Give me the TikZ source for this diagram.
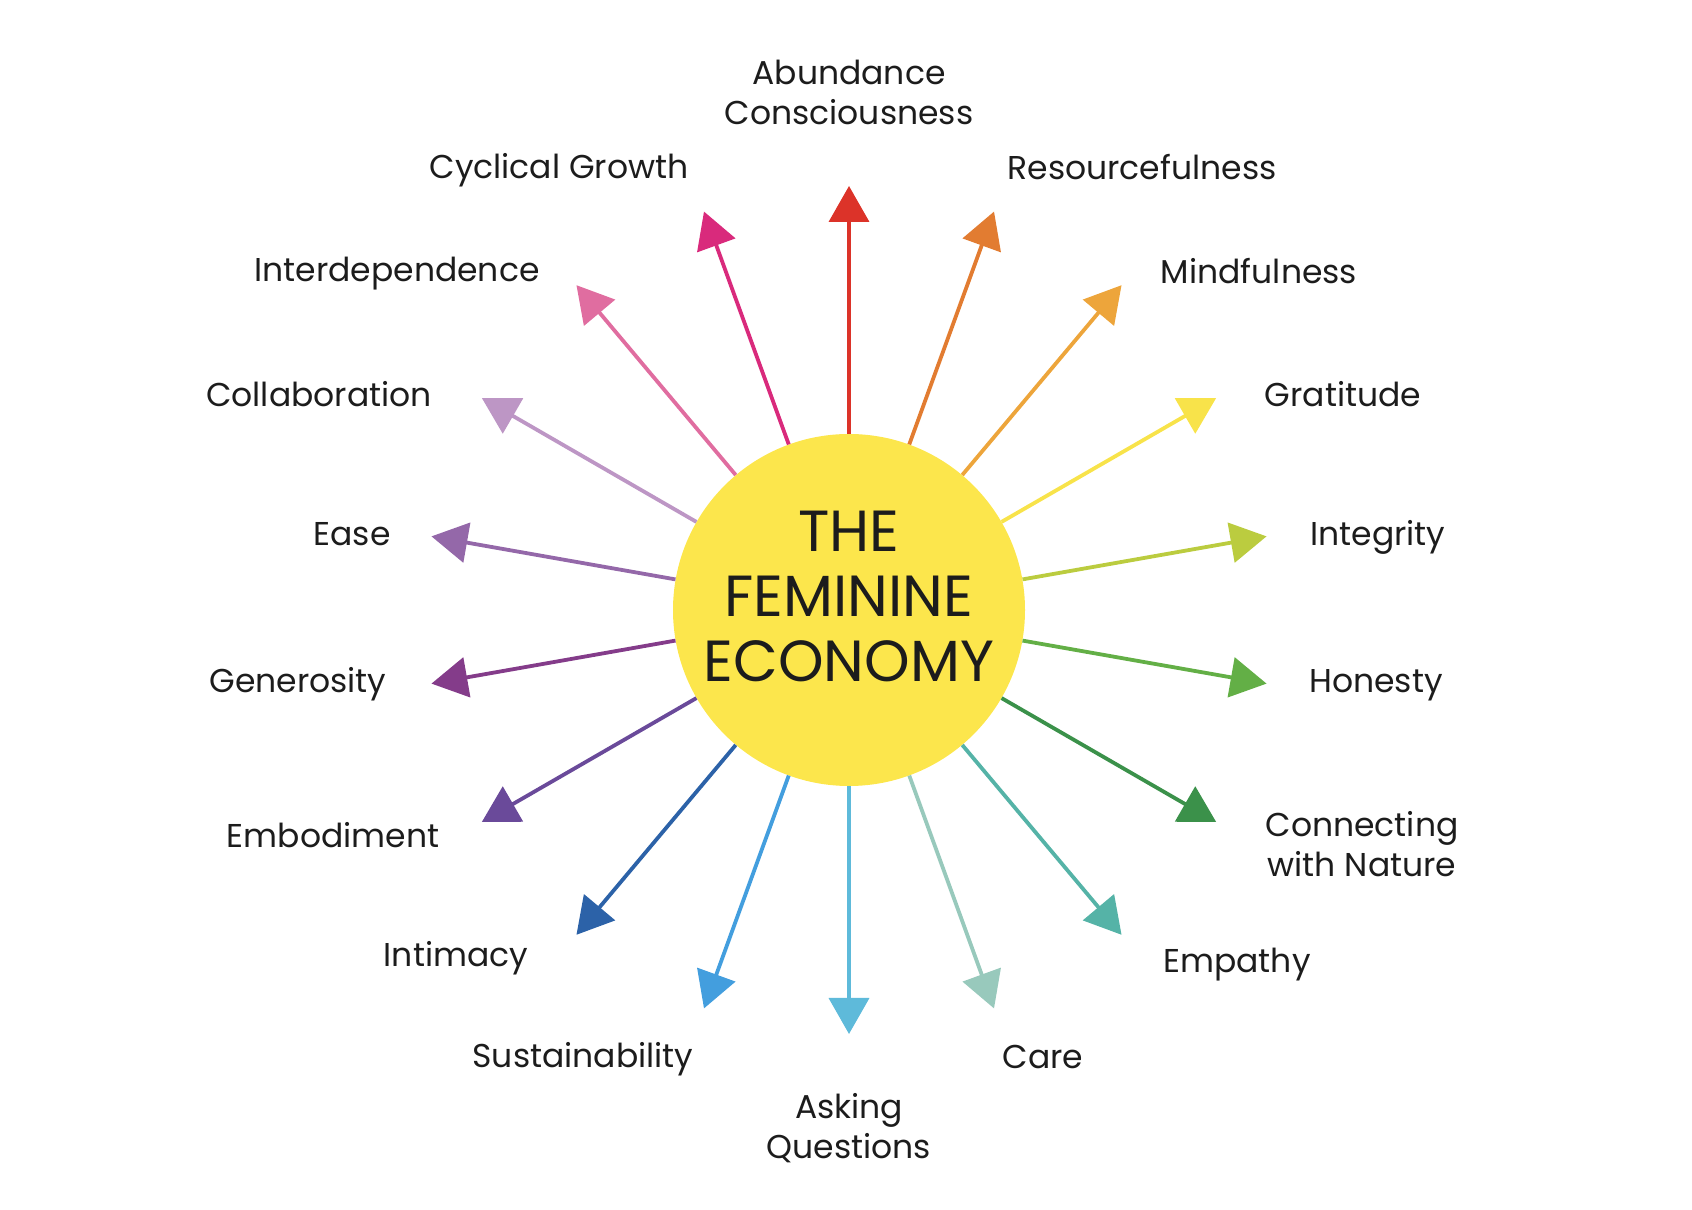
\documentclass[tikz,border=0pt]{standalone}
\usepackage{fontspec}
\setmainfont{Poppins}
\usetikzlibrary{arrows.meta,positioning,calc}

\definecolor{sunyellow}{HTML}{FCE64C}
\definecolor{ink}{HTML}{1C1C1C}
\definecolor{cAbund}{HTML}{DC3329}
\definecolor{cResource}{HTML}{E27C31}
\definecolor{cMindful}{HTML}{EDA53B}
\definecolor{cGrat}{HTML}{F8E34A}
\definecolor{cInteg}{HTML}{BBCC3F}
\definecolor{cHonest}{HTML}{63AF46}
\definecolor{cConnect}{HTML}{3B914A}
\definecolor{cEmpath}{HTML}{55B3A7}
\definecolor{cCare}{HTML}{98C9BC}
\definecolor{cAsking}{HTML}{5EBADA}
\definecolor{cSustain}{HTML}{439EDE}
\definecolor{cIntim}{HTML}{2C62A8}
\definecolor{cEmbod}{HTML}{6A4A9A}
\definecolor{cGener}{HTML}{843C8A}
\definecolor{cEase}{HTML}{9468A9}
\definecolor{cCollab}{HTML}{BD96C5}
\definecolor{cInterdep}{HTML}{E06DA0}
\definecolor{cCyclic}{HTML}{D92A7C}

\begin{document}
\begin{tikzpicture}[
  x=1pt, y=1pt,
  >={Triangle[length=36pt, width=40pt]},
  hub/.style={circle, fill=sunyellow, minimum size=352pt, inner sep=0pt},
  title/.style={align=center, inner sep=0pt, font=\fontsize{58}{65}\selectfont, text=ink},
  ray/.style={->, line width=3.8pt},
  lab/.style={font=\fontsize{33}{40}\selectfont, text=ink, align=center, inner sep=0pt},
]

\def\tipr{424}
\useasboundingbox (0,0) rectangle (1692,1210);

% centre
\node[hub] (econ) at (849,600) {};
\node[title] (title) at ([yshift=14pt]econ.center) {THE\\FEMININE\\ECONOMY};

% rays
\foreach \a/\c/\n in {90/cAbund/abund, 70/cResource/resource, 50/cMindful/mindful,
    30/cGrat/grat, 10/cInteg/integ, -10/cHonest/honest, -30/cConnect/connect,
    -50/cEmpath/empath, -70/cCare/care, -90/cAsking/asking, -110/cSustain/sustain,
    -130/cIntim/intim, -150/cEmbod/embod, -170/cGener/gener, 170/cEase/ease,
    150/cCollab/collab, 130/cInterdep/interdep, 110/cCyclic/cyclic} {
  \coordinate (\n-tip) at ($(econ)+(\a:\tipr)$);
  \draw[ray, color=\c] (econ) -- (\n-tip);
}

% labels
\node[lab] (abund) at (849,1118) {Abundance\\Consciousness};
\node[lab] (resource) at (1142,1043) {Resourcefulness};
\node[lab] (mindful) at (1259,939) {Mindfulness};
\node[lab] (grat) at (1343,816) {Gratitude};
\node[lab] (integ) at (1378,673) {Integrity};
\node[lab] (honest) at (1376,525) {Honesty};
\node[lab] (connect) at (1362,366) {Connecting\\with Nature};
\node[lab] (empath) at (1237,245) {Empathy};
\node[lab] (care) at (1043,153) {Care};
\node[lab] (asking) at (849,82) {Asking\\Questions};
\node[lab] (sustain) at (583,151) {Sustainability};
\node[lab] (intim) at (456,252) {Intimacy};
\node[lab] (embod) at (333,375) {Embodiment};
\node[lab] (gener) at (298,526) {Generosity};
\node[lab] (ease) at (352,676) {Ease};
\node[lab] (collab) at (319,816) {Collaboration};
\node[lab] (interdep) at (397,936) {Interdependence};
\node[lab] (cyclic) at (559,1040) {Cyclical Growth};

\end{tikzpicture}
\end{document}
